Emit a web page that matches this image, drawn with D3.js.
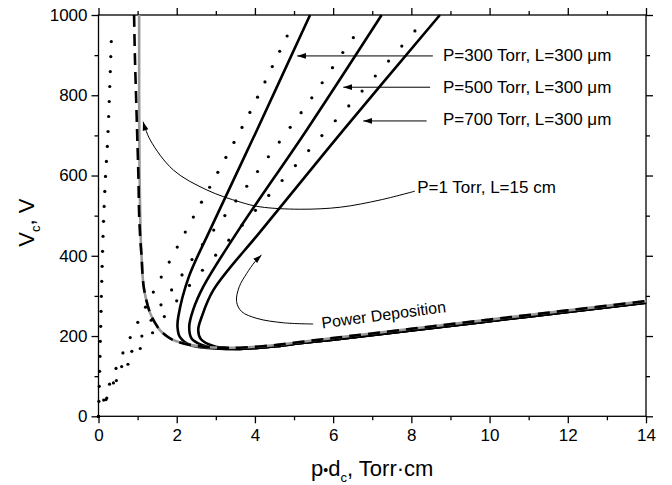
<!DOCTYPE html>
<html>
<head>
<meta charset="utf-8">
<script src="https://cdn.jsdelivr.net/npm/d3@7"></script>
<style>
body { margin: 0; background: #fff; }
text { font-family: "Liberation Sans", Arial, Helvetica, sans-serif; fill: #000; }
</style>
</head>
<body>
<svg id="chart" width="672" height="485"></svg>
<script>
// ticks
const xMajor = [0, 2, 4, 6, 8, 10, 12, 14]
const xMinor = [1, 3, 5, 7, 9, 11, 13]
const yMajor = [0, 200, 400, 600, 800, 1000]
const yMinor = [100, 300, 500, 700, 900]

// P=1 Torr, L=15 cm : grey solid curve and black dashed curve  [pd, Vc]
const p1Grey = [[1.04, 1000], [1.04, 800], [1.05, 600], [1.07, 480], [1.10, 400], [1.16, 320], [1.32, 257],
  [1.45, 232], [1.57, 215], [1.74, 200], [1.91, 190], [2.34, 178], [2.85, 172], [3.3, 171], [3.62, 171],
  [4.47, 177], [5.15, 185], [6, 195], [8, 218], [10, 241], [12, 264], [14, 287]]
const p1Dash = [[0.91, 1000], [0.93, 900], [0.96, 800], [0.99, 700], [1.02, 600], [1.04, 500], [1.07, 440],
  [1.10, 400], [1.16, 320], [1.32, 257], [1.45, 232], [1.57, 215], [1.74, 200], [1.91, 190], [2.34, 178],
  [2.85, 172], [3.3, 171], [3.62, 171], [4.47, 177], [5.15, 185], [6, 195], [8, 218], [10, 241], [12, 264], [14, 287]]

// P=300, 500, 700 Torr, L=300 um : black solid curves
const lowerBranch = [[3.62, 168], [4.47, 174], [5.15, 182], [6, 191], [8, 214], [10, 237], [12, 260], [14, 283]]
const p300 = [[5.41, 1000], [4.05, 713], [2.85, 464], [2.3, 345], [2.04, 248], [2.02, 223], [2.08, 198],
  [2.34, 178], [2.8, 170], [3.3, 168]]
const p500 = [[7.24, 1000], [5.32, 713], [3.58, 464], [2.68, 323], [2.42, 265], [2.32, 223], [2.38, 194],
  [2.64, 178], [3.0, 170], [3.3, 168]]
const p700 = [[8.73, 1000], [6.26, 713], [4.17, 464], [2.94, 315], [2.64, 248], [2.55, 215], [2.62, 192],
  [2.94, 175], [3.3, 169]]

// dotted lines
const dotV = [[0, 0], [0.05, 200], [0.1, 400], [0.17, 580], [0.24, 700], [0.28, 800], [0.34, 970]]
const dotA = [[0, 0], [0.12, 37], [0.42, 113], [0.76, 186], [1.15, 262], [1.55, 337], [1.96, 412], [2.58, 524],
  [3.19, 633], [4.0, 782], [4.56, 895], [4.94, 971]]
const dotB = [[0, 0], [0.17, 37], [0.53, 113], [1.02, 186], [1.49, 262], [2.03, 337], [2.54, 412], [3.13, 487],
  [3.69, 560], [4.24, 633], [4.81, 708], [5.37, 782], [5.90, 857], [6.43, 932], [6.69, 967]]
const dotC = [[0, 0], [0.38, 77], [0.63, 113], [0.91, 150], [1.21, 186], [1.79, 262], [2.42, 337], [3.09, 412],
  [5.11, 633], [5.79, 708], [6.48, 782], [7.16, 857], [7.84, 932], [8.16, 968]]

// annotations
const labels = ['P=300 Torr, L=300 \u03bcm', 'P=500 Torr, L=300 \u03bcm', 'P=700 Torr, L=300 \u03bcm', 'P=1 Torr, L=15 cm']
const labelPos = [[8.81, 885], [8.81, 806], [8.81, 726], [8.15, 556]]
const straightArrows = [[[8.55, 898], [5.08, 898]], [[8.48, 820], [6.26, 820]], [[8.39, 736], [6.77, 736]]]
const p1Arrow = [[8.09, 561], [7.2, 539], [6.18, 521], [5.15, 516], [4.13, 522], [3.62, 534], [2.77, 564],
  [1.91, 614], [1.32, 689], [1.14, 734]]
const powerArrow = [[5.49, 230], [4.73, 233], [4.05, 244], [3.66, 261], [3.53, 286], [3.6, 323], [3.79, 356],
  [4.0, 385], [4.17, 402]]
const powerLabel = 'Power Deposition'
const powerPos = [5.72, 219]

const svg = d3.select('#chart')
const width = 672, height = 485
const margin = {top: 15, right: 26, bottom: 68.7, left: 98.5}

const x = d3.scaleLinear().domain([0, 14]).range([margin.left, width - margin.right])
const y = d3.scaleLinear().domain([0, 1000]).range([height - margin.bottom, margin.top])

svg.append('defs').append('marker')
    .attr('id', 'head')
    .attr('viewBox', '0 -4 10 8')
    .attr('refX', 10).attr('refY', 0)
    .attr('markerWidth', 9).attr('markerHeight', 7)
    .attr('markerUnits', 'userSpaceOnUse')
    .attr('orient', 'auto')
    .append('path').attr('d', 'M0,-3.3L10,0L0,3.3Z').attr('fill', '#000')

// axes
function styleAxis(g) {
    g.select('.domain').remove()
    g.selectAll('line').attr('stroke', '#000').attr('stroke-width', 1.3)
    g.selectAll('text').attr('font-size', 17).attr('fill', '#000')
}
const xb = y(0), xt = y(1000), yl = x(0), yr = x(14)
svg.append('g').attr('transform', `translate(0,${xb})`)
    .call(d3.axisBottom(x).tickValues(xMajor).tickSize(7).tickSizeOuter(0).tickPadding(6).tickFormat(d3.format('d')))
    .call(styleAxis)
svg.append('g').attr('transform', `translate(0,${xb})`)
    .call(d3.axisBottom(x).tickValues(xMinor).tickSize(4).tickFormat(''))
    .call(styleAxis)
svg.append('g').attr('transform', `translate(0,${xt})`)
    .call(d3.axisTop(x).tickValues(xMajor).tickSize(7).tickFormat(''))
    .call(styleAxis)
svg.append('g').attr('transform', `translate(0,${xt})`)
    .call(d3.axisTop(x).tickValues(xMinor).tickSize(4).tickFormat(''))
    .call(styleAxis)
svg.append('g').attr('transform', `translate(${yl},0)`)
    .call(d3.axisLeft(y).tickValues(yMajor).tickSize(7).tickPadding(4).tickFormat(d3.format('d')))
    .call(styleAxis)
svg.append('g').attr('transform', `translate(${yl},0)`)
    .call(d3.axisLeft(y).tickValues(yMinor).tickSize(4).tickFormat(''))
    .call(styleAxis)
svg.append('g').attr('transform', `translate(${yr},0)`)
    .call(d3.axisRight(y).tickValues(yMajor).tickSize(7).tickFormat(''))
    .call(styleAxis)
svg.append('g').attr('transform', `translate(${yr},0)`)
    .call(d3.axisRight(y).tickValues(yMinor).tickSize(4).tickFormat(''))
    .call(styleAxis)

svg.append('rect')
    .attr('x', yl).attr('y', xt).attr('width', yr - yl).attr('height', xb - xt)
    .attr('fill', 'none').attr('stroke', '#000').attr('stroke-width', 1.3)

// axis titles
const xTitle = svg.append('text')
    .attr('x', (yl + yr) / 2).attr('y', 476)
    .attr('text-anchor', 'middle').attr('font-size', 22)
xTitle.append('tspan').text('p')
xTitle.append('tspan').attr('font-size', 14).attr('dy', -1).text('\u2022')
xTitle.append('tspan').attr('dy', 1).text('d')
xTitle.append('tspan').attr('font-size', 13).attr('dy', 6).text('c')
xTitle.append('tspan').attr('dy', -6).text(', Torr\u00b7cm')

const yTitle = svg.append('text')
    .attr('transform', `translate(34,${(xt + xb) / 2 + 7}) rotate(-90)`)
    .attr('text-anchor', 'middle').attr('font-size', 22)
yTitle.append('tspan').text('V')
yTitle.append('tspan').attr('font-size', 13).attr('dy', 6).text('c')
yTitle.append('tspan').attr('dy', -6).text(', V')

// curves
const line = d3.line().x(d => x(d[0])).y(d => y(d[1])).curve(d3.curveCatmullRom.alpha(0.5))
const plot = svg.append('g')

const solids = [p300.concat(lowerBranch), p500.concat(lowerBranch), p700.concat(lowerBranch)]
plot.selectAll('.solid')
    .data(solids)
    .join('path')
    .attr('class', 'solid')
    .attr('d', line)
    .attr('fill', 'none').attr('stroke', '#000').attr('stroke-width', 2.6)

plot.append('path').attr('d', line(p1Grey))
    .attr('fill', 'none').attr('stroke', '#9a9a9a').attr('stroke-width', 2.6)
plot.append('path').attr('d', line(p1Dash))
    .attr('fill', 'none').attr('stroke', '#000').attr('stroke-width', 2.6)
    .attr('stroke-dasharray', '12,7')

// dotted lines: dots placed along each path at a fixed spacing
const dotLine = d3.line().x(d => x(d[0])).y(d => y(d[1])).curve(d3.curveMonotoneX)
const dotted = [{pts: dotV, gap: 15}, {pts: dotA, gap: 17}, {pts: dotB, gap: 18.3}, {pts: dotC, gap: 20}]
dotted.forEach(function (d) {
    let p = plot.append('path').attr('d', dotLine(d.pts)).attr('fill', 'none').attr('stroke', 'none')
    let node = p.node()
    let len = node.getTotalLength()
    let marks = []
    for (let s = 0; s <= len; s += d.gap) marks.push(node.getPointAtLength(s))
    p.remove()
    plot.append('g').selectAll('circle')
        .data(marks)
        .join('circle')
        .attr('cx', m => m.x).attr('cy', m => m.y)
        .attr('r', 1.6).attr('fill', '#000')
})

// annotations
const ann = svg.append('g')
ann.selectAll('.lbl')
    .data(labels)
    .join('text')
    .attr('class', 'lbl')
    .attr('x', (d, i) => x(labelPos[i][0]))
    .attr('y', (d, i) => y(labelPos[i][1]))
    .attr('font-size', 17)
    .text(d => d)

ann.selectAll('.arr')
    .data(straightArrows)
    .join('line')
    .attr('class', 'arr')
    .attr('x1', d => x(d[0][0])).attr('y1', d => y(d[0][1]))
    .attr('x2', d => x(d[1][0])).attr('y2', d => y(d[1][1]))
    .attr('stroke', '#000').attr('stroke-width', 1)
    .attr('marker-end', 'url(#head)')

ann.selectAll('.curvedArr')
    .data([p1Arrow, powerArrow])
    .join('path')
    .attr('class', 'curvedArr')
    .attr('d', line)
    .attr('fill', 'none').attr('stroke', '#000').attr('stroke-width', 1)
    .attr('marker-end', 'url(#head)')

ann.append('text')
    .attr('transform', `translate(${x(powerPos[0])},${y(powerPos[1])}) rotate(-7.5)`)
    .attr('font-size', 16)
    .text(powerLabel)
</script>
</body>
</html>
